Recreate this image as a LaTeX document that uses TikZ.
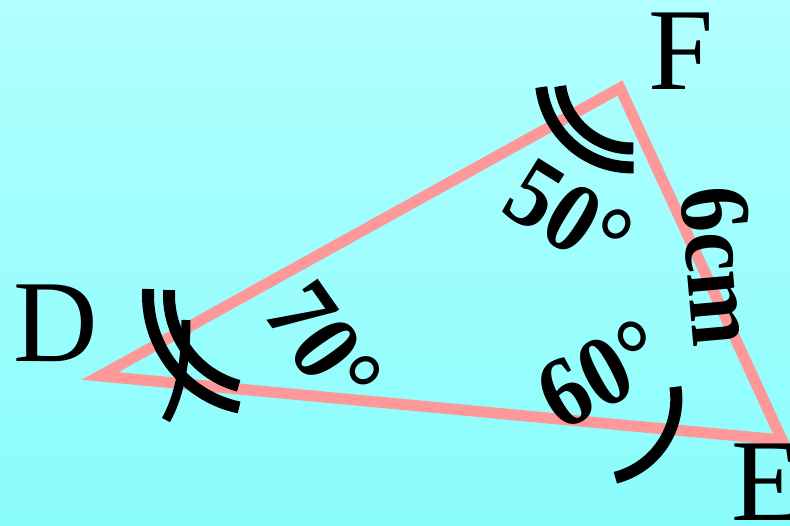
\documentclass[tikz,border=0pt]{standalone}
\usepackage{fontspec}
\setmainfont{Liberation Serif}
\usepackage{graphicx}
\definecolor{tripink}{RGB}{255,153,153}
\definecolor{bgtop}{RGB}{178,255,255}
\definecolor{bgbot}{RGB}{138,252,252}
\begin{document}
\begin{tikzpicture}[x=1pt,y=1pt,
  tri/.style={line width=11pt, draw=tripink, line join=miter},
  arcline/.style={line width=12pt, draw=black},
  tickline/.style={line width=9pt, draw=black},
  vlabel/.style={font=\fontsize{117}{120}\selectfont, inner sep=0pt, anchor=base west},
  alabel/.style={font=\bfseries\fontsize{100}{104}\selectfont, inner sep=0pt, anchor=center}]
\useasboundingbox (0,0) rectangle (790,525);
\shade[top color=bgtop, bottom color=bgbot] (0,0) rectangle (790,525);
% triangle
\coordinate (D) at (100,149);
\coordinate (F) at (620,437);
\coordinate (E) at (782,85);
\draw[tri] (D) -- (F) -- (E) -- cycle;
% vertex letters
\node[vlabel] (lF) at (648.6,435) {F};
\node[vlabel] (lD) at (13.6,163) {D};
\node[vlabel] (lE) at (731.6,5) {E};
% angle marks at F
\coordinate (cF) at (632,449);
\draw[arcline] ([shift={(187:91.4)}]cF) arc[start angle=187, end angle=271, radius=91.4];
\draw[arcline] ([shift={(188:72.5)}]cF) arc[start angle=188, end angle=271, radius=72.5];
% angle marks at D
\coordinate (cD) at (263,230);
\draw[arcline] ([shift={(177:115)}]cD) arc[start angle=177, end angle=258, radius=115];
\draw[arcline] ([shift={(177:94)}]cD) arc[start angle=177, end angle=255, radius=94];
\coordinate (t1) at (186,205);
\coordinate (t2) at (166,105);
\draw[tickline] (t1) .. controls (186,165) and (180,130) .. (t2);
% angle mark at E
\coordinate (cE) at (595,126);
\draw[arcline] ([shift={(8.6:81.3)}]cE) arc[start angle=8.6, end angle=-75.5, radius=81.3];
% angle labels
\node[alabel, rotate=-32] (a50) at (569,309) {\scalebox{0.9}[1]{50°}};
\node[alabel, rotate=-55] (a70) at (324,180) {\scalebox{0.9}[1]{70°}};
\node[alabel, rotate=28] (a60) at (601,151) {\scalebox{0.9}[1]{60°}};
\node[alabel, rotate=-85] (s6) at (720,259) {\scalebox{0.9}[1]{6cm}};
\end{tikzpicture}
\end{document}
